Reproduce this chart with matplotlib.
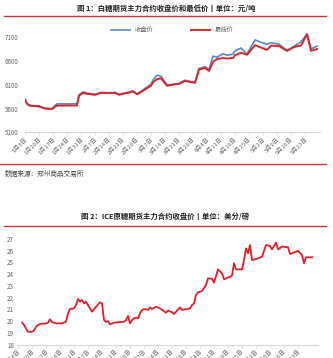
import matplotlib
matplotlib.use('Agg')
import matplotlib.pyplot as plt
import pandas as pd
from matplotlib.lines import Line2D

plt.rcParams['font.family'] = ['Noto Sans CJK SC', 'DejaVu Sans']

W, H = 333, 358

# chart 1: Zhengzhou sugar futures, close and low (yuan/ton)
sr_dates = ['01-03', '01-04', '01-05', '01-06', '01-10', '01-11', '01-13', '01-16',
            '01-17', '01-18', '01-19', '01-20', '01-29', '01-30', '02-01', '02-03',
            '02-07', '02-10', '02-14', '02-17', '02-19', '02-22', '02-24', '02-26',
            '02-28', '03-03', '03-07', '03-08', '03-10', '03-12', '03-15', '03-18',
            '03-21', '03-24', '03-29', '03-31', '04-03', '04-05', '04-07', '04-09',
            '04-12', '04-14', '04-17', '04-18', '04-21', '04-24', '04-28', '05-01',
            '05-04', '05-06', '05-10', '05-14', '05-18', '05-21', '05-24', '05-26',
            '05-29']
sr_low = [5790, 5700, 5670, 5655, 5650, 5630, 5600, 5590,
          5600, 5640, 5665, 5665, 5665, 5870, 5930, 5910,
          5890, 5930, 5925, 5930, 5890, 5920, 5935, 5960,
          5900, 5975, 6080, 6150, 6220, 6235, 6080, 6100,
          6120, 6180, 6140, 6420, 6450, 6390, 6580, 6640,
          6660, 6650, 6660, 6720, 6770, 6730, 6930, 6880,
          6830, 6920, 6910, 6810, 6900, 6920, 7160, 6810,
          6850]
sr_close = [5800, 5710, 5680, 5665, 5660, 5640, 5610, 5600,
            5615, 5665, 5700, 5700, 5700, 5890, 5950, 5925,
            5900, 5940, 5935, 5940, 5900, 5930, 5945, 5975,
            5905, 5995, 6110, 6200, 6300, 6280, 6095, 6110,
            6130, 6195, 6150, 6440, 6480, 6420, 6700, 6680,
            6750, 6720, 6740, 6810, 6870, 6740, 7040, 6990,
            6950, 6980, 6950, 6820, 6920, 7000, 7160, 6850,
            6910]

# chart 2: ICE raw sugar front month close (cents/lb)
ice_dates = ['01-05', '01-06', '01-08', '01-10', '01-11', '01-12', '01-13', '01-14',
             '01-17', '01-18', '01-19', '01-20', '01-22', '01-25', '01-27', '01-28',
             '01-29', '01-31', '02-01', '02-02', '02-03', '02-04', '02-05', '02-06',
             '02-08', '02-09', '02-11', '02-13', '02-14', '02-15', '02-16', '02-17',
             '02-18', '02-20', '02-25', '02-26', '02-27', '02-28', '03-01', '03-02',
             '03-03', '03-04', '03-05', '03-06', '03-07', '03-09', '03-10', '03-11',
             '03-13', '03-15', '03-18', '03-19', '03-21', '03-22', '03-25', '03-26',
             '03-30', '03-31', '04-01', '04-02', '04-03', '04-05', '04-07', '04-08',
             '04-10', '04-11', '04-13', '04-15', '04-16', '04-19', '04-20', '04-21',
             '04-22', '04-25', '04-26', '04-27', '04-28', '04-29', '04-30', '05-03',
             '05-05', '05-07', '05-09', '05-10', '05-12', '05-13', '05-15', '05-18',
             '05-19', '05-22', '05-23', '05-25', '05-26', '05-27', '05-30']
ice_close = [19.86, 19.66, 19.09, 19.09, 19.2, 19.5, 19.66, 19.75,
             19.8, 19.86, 20.15, 19.92, 19.8, 19.8, 19.94, 20.66,
             21.03, 21.08, 21.37, 21.88, 21.65, 21.8, 21.5, 21.65,
             21.08, 20.8, 21.22, 21.6, 21.5, 20.09, 19.92, 20.0,
             19.72, 19.86, 19.94, 20.08, 20.43, 19.8, 20.08, 20.23,
             20.3, 20.23, 20.66, 20.95, 21.03, 20.95, 21.17, 21.03,
             21.22, 21.08, 20.71, 20.9, 20.75, 20.6, 21.17, 20.95,
             21.08, 21.37, 21.5, 22.22, 22.45, 22.56, 23.08, 23.65,
             23.6, 23.28, 24.41, 24.07, 23.56, 23.78, 23.88, 24.93,
             24.41, 24.41, 25.2, 26.2, 25.78, 26.49, 25.2, 25.35,
             25.49, 26.49, 26.4, 26.12, 26.69, 26.12, 26.35, 26.3,
             25.72, 25.92, 26.0, 25.63, 24.93, 25.44, 25.44]

tick_dates = ['01-03', '01-10', '01-17', '01-24', '01-31', '02-07', '02-14',
              '02-21', '02-28', '03-07', '03-14', '03-21', '03-28', '04-04',
              '04-11', '04-18', '04-25', '05-02', '05-09', '05-16', '05-23']
tick_labels = ['1月3日', '1月10日', '1月17日', '1月24日', '1月31日', '2月7日', '2月14日',
               '2月21日', '2月28日', '3月7日', '3月14日', '3月21日', '3月28日', '4月4日',
               '4月11日', '4月18日', '4月25日', '5月2日', '5月9日', '5月16日', '5月23日']

sr_y_ticks = [5100, 5600, 6100, 6600, 7100]
ice_y_ticks = [18, 19, 20, 21, 22, 23, 24, 25, 26, 27]

start = pd.Timestamp('2023-01-03')


def to_days(md):
    return [(pd.Timestamp('2023-' + d) - start).days for d in md]


def px_axes(fig, left, top, right, bottom):
    return fig.add_axes([left / W, 1 - bottom / H, (right - left) / W, (bottom - top) / H])


def hline(fig, y, x0=4, x1=326, color='#c8353a', lw=1.0):
    fig.add_artist(Line2D([x0 / W, x1 / W], [1 - y / H, 1 - y / H],
                          transform=fig.transFigure, color=color, lw=lw))


def style_axes(ax, yticks, ylabels):
    for s in ['top', 'right', 'left']:
        ax.spines[s].set_visible(False)
    ax.spines['bottom'].set_color('#d9d9d9')
    ax.spines['bottom'].set_linewidth(0.8)
    ax.set_yticks(yticks)
    ax.set_yticklabels(ylabels)
    ax.tick_params(axis='y', length=0, pad=5, labelsize=4.5, labelcolor='#666666')
    ax.tick_params(axis='x', length=2, width=0.6, color='#d9d9d9', pad=1,
                   labelsize=4.3, labelcolor='#666666')
    ax.set_xticks(to_days(tick_dates))
    ax.set_xticklabels(tick_labels, rotation=45, ha='right', rotation_mode='anchor')


fig = plt.figure(figsize=(W / 100, H / 100), dpi=100)

# ---- chart 1 ----
fig.text(166 / W, 1 - 8 / H, '图 1：白糖期货主力合约收盘价和最低价丨单位：元/吨',
         ha='center', va='center', fontsize=5.3, fontweight='bold', color='#222222')
hline(fig, 16)

ax1 = px_axes(fig, 25, 27.5, 320, 132.5)
ax1.plot(to_days(sr_dates), sr_close, color='#5b87c5', lw=1.2, label='收盘价')
ax1.plot(to_days(sr_dates), sr_low, color='#d8262e', lw=1.4, label='最低价')
ax1.set_xlim(0, 147.5)
ax1.set_ylim(5100, 7300)
style_axes(ax1, sr_y_ticks, [str(v) for v in sr_y_ticks])
ax1.legend(loc='center', bbox_to_anchor=(0.5, 0.975), ncol=2, frameon=False,
           fontsize=4.5, handlelength=3, columnspacing=6, labelcolor='#666666')

hline(fig, 164, x0=0, x1=326, color='#c8353a', lw=1.0)
fig.text(5 / W, 1 - 174 / H, '数据来源：郑州商品交易所', ha='left', va='center',
         fontsize=4.8, color='#444444')

# ---- chart 2 ----
fig.text(165 / W, 1 - 216 / H, '图 2：ICE原糖期货主力合约收盘价丨单位：美分/磅',
         ha='center', va='center', fontsize=5.3, fontweight='bold', color='#222222')
hline(fig, 226.5)

ax2 = px_axes(fig, 18, 235.5, 318, 344.5)
ax2.plot(to_days(ice_dates), ice_close, color='#e0202a', lw=1.3)
ax2.set_xlim(0, 150)
ax2.set_ylim(18, 27.3)
style_axes(ax2, ice_y_ticks, [str(v) for v in ice_y_ticks])
ax2.tick_params(axis='y', pad=3)

fig.savefig('out.png', dpi=100)
